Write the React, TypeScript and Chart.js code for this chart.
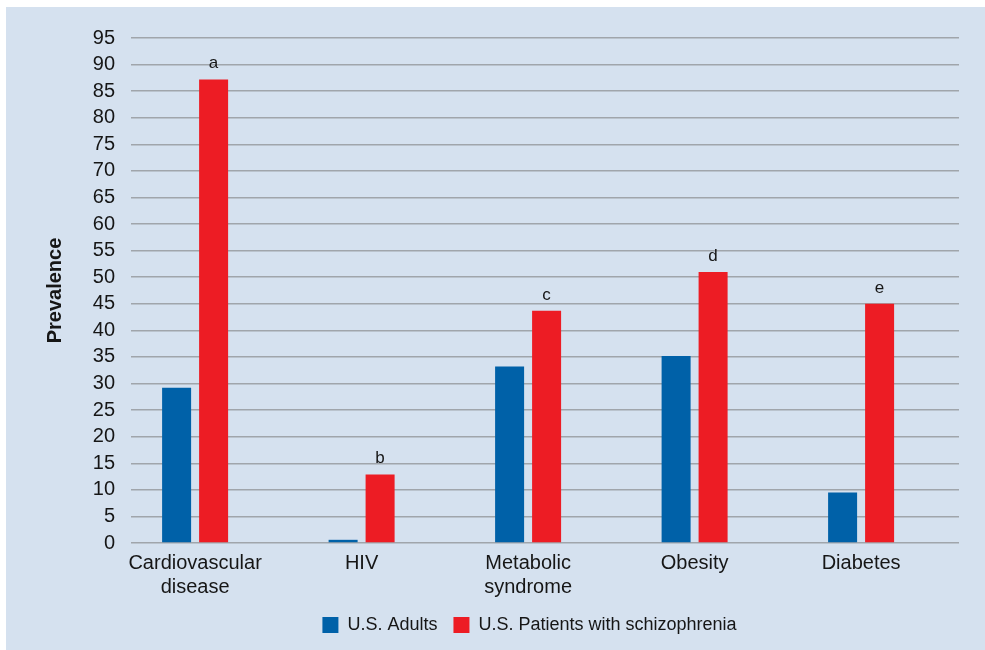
import React, { useEffect, useRef } from 'react';
import { Chart, registerables } from 'chart.js';

Chart.register(...registerables);

// ---- data ----
const categories: string[][] = [
  ['Cardiovascular', 'disease'],
  ['HIV'],
  ['Metabolic', 'syndrome'],
  ['Obesity'],
  ['Diabetes'],
];
const usAdults = [29.2, 0.6, 33.2, 35.2, 9.5];
const usSchizophrenia = [87.2, 12.9, 43.7, 51.0, 45.0];
const noteLetters = ['a', 'b', 'c', 'd', 'e'];
const seriesNames = ['U.S. Adults', 'U.S. Patients with schizophrenia'];
const yMin = 0;
const yMax = 95;
const yStep = 5;

const FONT = '"Liberation Sans", Arial, Helvetica, sans-serif';
const TEXT = '#161616';
const BLUE = '#0061a8';
const RED = '#ed1c24';
const GRID = '#a0a5ab';
const PANEL = '#d5e1ef';

const letterPlugin = {
  id: 'noteLetters',
  afterDatasetsDraw(chart: any) {
    const meta = chart.getDatasetMeta(1);
    const ctx = chart.ctx;
    ctx.save();
    ctx.font = `17px ${FONT}`;
    ctx.fillStyle = TEXT;
    ctx.textAlign = 'center';
    ctx.textBaseline = 'alphabetic';
    meta.data.forEach((el: any, i: number) => {
      ctx.fillText(noteLetters[i], el.x, el.y - 11);
    });
    ctx.restore();
  },
};

export default function App() {
  const ref = useRef<HTMLCanvasElement | null>(null);

  useEffect(() => {
    if (!ref.current) return;
    Chart.defaults.font.family = FONT;
    Chart.defaults.color = TEXT;
    const chart = new Chart(ref.current, {
      type: 'bar',
      data: {
        datasets: [
          {
            label: seriesNames[0],
            data: usAdults.map((v, i) => ({ x: i, y: v })),
            backgroundColor: BLUE,
            borderWidth: 0,
            xAxisID: 'x',
            yAxisID: 'y',
          },
          {
            label: seriesNames[1],
            data: usSchizophrenia.map((v, i) => ({ x: i, y: v })),
            backgroundColor: RED,
            borderWidth: 0,
            xAxisID: 'x',
            yAxisID: 'y',
          },
        ],
      },
      options: {
        responsive: false,
        animation: false,
        events: [],
        categoryPercentage: 0.4444,
        barPercentage: 0.784,
        layout: { padding: { left: 0, right: 0, top: 31, bottom: 0 } },
        plugins: {
          legend: {
            position: 'bottom',
            labels: {
              boxWidth: 16,
              boxHeight: 16,
              padding: 16,
              color: TEXT,
              font: { size: 18, family: FONT },
            },
          },
          tooltip: { enabled: false },
        },
        scales: {
          x: {
            type: 'linear',
            min: -0.385,
            max: 4.588,
            bounds: 'data',
            offset: false,
            grid: { display: false, offset: false, drawTicks: false },
            border: { display: false },
            afterBuildTicks: (scale: any) => {
              scale.ticks = categories.map((_, i) => ({ value: i }));
            },
            afterFit: (scale: any) => {
              scale.height = 57;
            },
            ticks: {
              autoSkip: false,
              maxRotation: 0,
              minRotation: 0,
              padding: 8,
              color: TEXT,
              font: { size: 20, family: FONT, lineHeight: 1.2 },
              callback: (value: any) => categories[Math.round(Number(value))] ?? '',
            },
          },
          y: {
            type: 'linear',
            position: 'left',
            min: yMin,
            max: yMax,
            grid: { color: GRID, lineWidth: 1.5, drawTicks: false },
            border: { display: false },
            afterFit: (scale: any) => {
              scale.width = 125;
            },
            ticks: {
              stepSize: yStep,
              autoSkip: false,
              padding: 16,
              color: TEXT,
              font: { size: 20, family: FONT },
            },
            title: {
              display: true,
              text: 'Prevalence',
              color: TEXT,
              font: { size: 20, weight: 'bold', family: FONT },
              padding: { top: 37, bottom: 0 },
            },
          },
          yRight: {
            type: 'linear',
            position: 'right',
            display: true,
            grid: { display: false },
            border: { display: false },
            ticks: { display: false },
            afterFit: (scale: any) => {
              scale.width = 94;
            },
          },
        },
      } as any,
      plugins: [letterPlugin],
    });
    return () => chart.destroy();
  }, []);

  return (
    <div
      style={{
        position: 'fixed',
        left: 0,
        top: 0,
        width: 985,
        height: 650,
        overflow: 'hidden',
        background: '#ffffff',
      }}
    >
      <div
        style={{
          position: 'absolute',
          left: 6,
          top: 7,
          width: 1047,
          height: 643,
          background: PANEL,
        }}
      >
        <canvas ref={ref} width={1047} height={637} style={{ display: 'block' }} />
      </div>
    </div>
  );
}
